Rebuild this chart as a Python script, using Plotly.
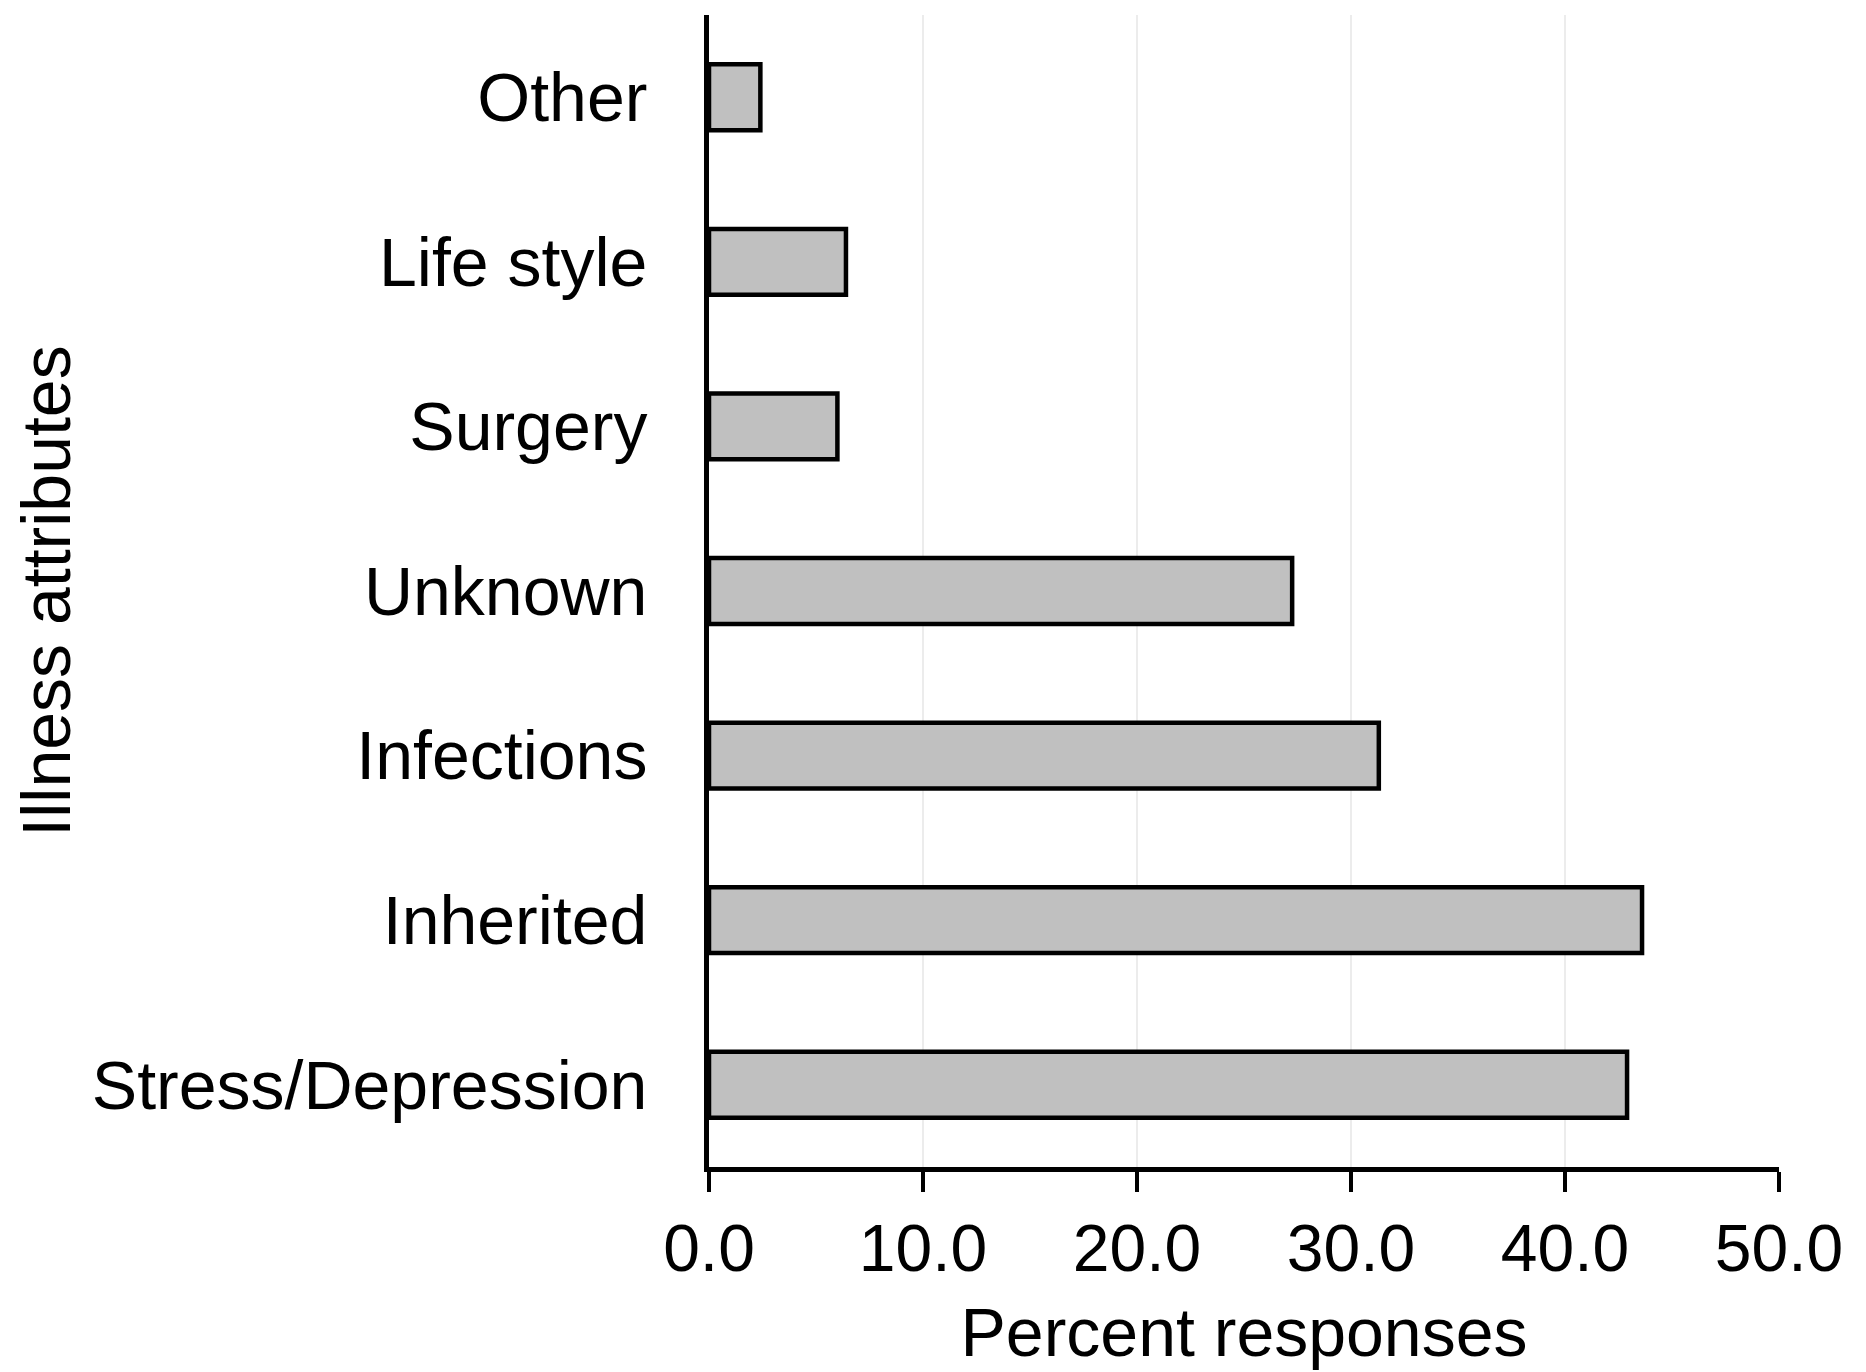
import plotly.graph_objects as go

categories = ["Stress/Depression", "Inherited", "Infections", "Unknown", "Surgery", "Life style", "Other"]
values = [42.9, 43.6, 31.3, 27.25, 6.0, 6.4, 2.4]
x_ticks = [0, 10, 20, 30, 40, 50]
x_tick_labels = ["0.0", "10.0", "20.0", "30.0", "40.0", "50.0"]

FONT = "Liberation Sans, Arial, sans-serif"

fig = go.Figure()
fig.add_trace(go.Bar(
    y=categories, x=values, orientation="h",
    marker=dict(color="#c0c0c0", line=dict(color="#000000", width=4.5)),
    width=0.4,
))

fig.update_layout(
    width=1866, height=1372,
    margin=dict(l=701, r=95, t=7, b=213),
    paper_bgcolor="white", plot_bgcolor="white",
    font=dict(family=FONT, size=66, color="black"),
    showlegend=False,
    bargap=0.6,
)
fig.update_xaxes(
    range=[0, 50], tickvals=x_ticks, ticktext=x_tick_labels,
    showgrid=True, gridcolor="#ececec", gridwidth=2,
    showline=True, linecolor="black", linewidth=5,
    ticks="outside", ticklen=20, tickwidth=4, tickcolor="black",
    tickfont=dict(size=66),
    title=dict(text="Percent responses", font=dict(size=68), standoff=26),
    zeroline=False,
)
fig.update_yaxes(
    categoryorder="array", categoryarray=categories,
    range=[-0.5, 6.5],
    showgrid=False, showline=True, linecolor="black", linewidth=5,
    ticks="", ticklabelstandoff=43,
    tickfont=dict(size=68),
    title=dict(text="Illness attributes", font=dict(size=68), standoff=27),
    zeroline=False,
)

fig.write_html("out.html")
